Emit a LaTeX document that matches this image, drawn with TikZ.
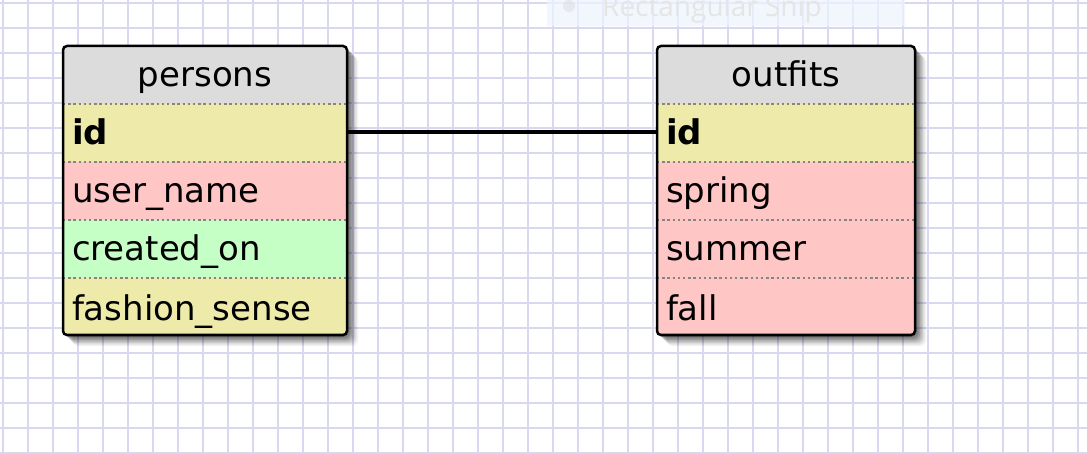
\documentclass[tikz,border=0pt]{standalone}
\usepackage{fontspec}
\setmainfont{DejaVu Sans}
\newfontfamily\snipfont{Open Sans}
\usetikzlibrary{calc}
\definecolor{gridc}{HTML}{D8D8F2}
\definecolor{headc}{HTML}{DCDCDC}
\definecolor{yelc}{HTML}{EEEBAA}
\definecolor{pinkc}{HTML}{FFC6C6}
\definecolor{greenc}{HTML}{C6FFC6}
\definecolor{sepc}{HTML}{858585}
\definecolor{snipc}{HTML}{EEF4FD}
\tikzset{
  cell/.style={anchor=north west, minimum height=58pt, inner sep=0pt, outer sep=0pt,
    text height=27pt, text depth=3pt, font=\fontsize{34}{38}\selectfont},
  head/.style={cell, fill=headc, align=center},
  field/.style={cell, align=left, inner xsep=9pt},
  sep/.style={draw=sepc, line width=2.6pt, dash pattern=on 2.4pt off 2.8pt},
  frame/.style={draw=black, line width=2.5pt, rounded corners=4pt},
  link/.style={draw=black, line width=4pt},
}
\newcommand{\tshadow}[2]{%
  \foreach \d/\o in {11/0.05,9.5/0.07,8/0.09,6.5/0.11,5/0.13,3.5/0.14,2/0.14}{
    \fill[black, opacity=\o, rounded corners=6pt] ($(#1)+(\d-1,\d-1)$) rectangle ($(#2)+(\d,\d)$);
  }}
\begin{document}
\begin{tikzpicture}[x=1pt,y=-1pt]
\useasboundingbox (0,0) rectangle (1087,454);
\fill[white] (0,0) rectangle (1087,454);
% grid
\foreach \i in {0,...,43}{\draw[gridc, line width=2.4pt] (3+25*\i,0) -- (3+25*\i,454);}
\foreach \j in {0,...,18}{\draw[gridc, line width=2.4pt] (0,3+25*\j) -- (1087,3+25*\j);}
% snip overlay
\fill[snipc, opacity=0.75] (547,0) rectangle (905,26);
\begin{scope}
\clip (547,0) rectangle (905,26);
\fill[black!12, opacity=0.6] (569,6) circle (6);
\node[anchor=base west, inner sep=0pt, text=black!10, font=\snipfont\fontsize{28}{30}\selectfont] (snip) at (602,17) {Rectangular Snip};
\end{scope}
% shadows
\coordinate (pnw) at (63,46); \coordinate (pse) at (347,335);
\coordinate (onw) at (657,46); \coordinate (ose) at (915,335);
\tshadow{pnw}{pse}
\tshadow{onw}{ose}
% persons table
\begin{scope}
\clip[rounded corners=4pt] (pnw) rectangle (pse);
\node[head, minimum width=284pt, text width=284pt] (p-head) at (63,46) {persons};
\node[field, fill=yelc, minimum width=284pt, text width=266pt] (p-id) at (63,104) {\textbf{id}};
\node[field, fill=pinkc, minimum width=284pt, text width=266pt] (p-user) at (63,162) {user\_name};
\node[field, fill=greenc, minimum width=284pt, text width=266pt] (p-created) at (63,220) {created\_on};
\node[field, fill=yelc, minimum width=284pt, text width=266pt, minimum height=60pt] (p-fashion) at (63,278) {fashion\_sense};
\end{scope}
\foreach \n in {p-id,p-user,p-created,p-fashion}{\draw[sep] (\n.north west) -- (\n.north east);}
\draw[frame] (pnw) rectangle (pse);
% outfits table
\begin{scope}
\clip[rounded corners=4pt] (onw) rectangle (ose);
\node[head, minimum width=258pt, text width=258pt] (o-head) at (657,46) {outfits};
\node[field, fill=yelc, minimum width=258pt, text width=240pt] (o-id) at (657,104) {\textbf{id}};
\node[field, fill=pinkc, minimum width=258pt, text width=240pt] (o-spring) at (657,162) {spring};
\node[field, fill=pinkc, minimum width=258pt, text width=240pt] (o-summer) at (657,220) {summer};
\node[field, fill=pinkc, minimum width=258pt, text width=240pt, minimum height=60pt] (o-fall) at (657,278) {fall};
\end{scope}
\foreach \n in {o-id,o-spring,o-summer,o-fall}{\draw[sep] (\n.north west) -- (\n.north east);}
\draw[frame] (onw) rectangle (ose);
% relation
\draw[link] ($(p-id.east)+(0,-1)$) -- ($(o-id.west)+(0,-1)$);
\end{tikzpicture}
\end{document}
